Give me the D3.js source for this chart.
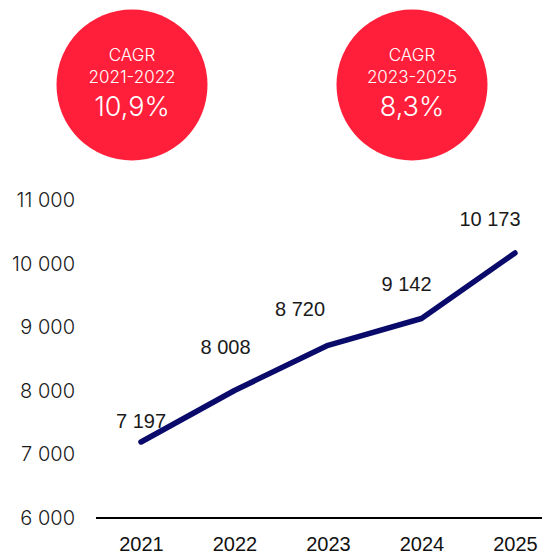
<!DOCTYPE html>
<html>
<head>
<meta charset="utf-8">
<script src="https://cdn.jsdelivr.net/npm/d3@7"></script>
<style>
  html, body { margin: 0; padding: 0; background: #fff; }
  svg { display: block; }
</style>
</head>
<body>
<svg id="chart" width="542" height="554"></svg>
<script>
// Revenue by year
const years = ["2021", "2022", "2023", "2024", "2025"];
const values = [7197, 8008, 8720, 9142, 10173];
const yTicks = [6000, 7000, 8000, 9000, 10000, 11000];

// Growth badges
const cagrPeriods = ["2021-2022", "2023-2025"];
const cagrRates = ["10,9%", "8,3%"];

// Hand-placed label nudges (dx, dy from the point) so labels sit clear of the line
const labelDx = [0, -9, -28, -15, -25];
const labelDy = [-14, -36, -29, -27, -27];

const svg = d3.select("#chart");
const fmt = d3.formatLocale({ decimal: ",", thousands: " ", grouping: [3], currency: ["", ""] }).format(",d");

const x = d3.scalePoint().domain(years).range([141, 515]);
const y = d3.scaleLinear().domain([6000, 11000]).range([518, 200.5]);

// Y tick labels (no axis line)
const yAxis = d3.axisLeft(y).tickValues(yTicks).tickSize(0).tickPadding(0).tickFormat(fmt);
const gy = svg.append("g").attr("transform", "translate(75,0)").call(yAxis);
gy.select(".domain").remove();
gy.selectAll("text")
  .attr("font-family", "Inter, 'Noto Sans', sans-serif")
  .attr("font-size", 20)
  .attr("font-weight", 300)
  .attr("fill", "#1a1a1a");

// Baseline
svg.append("line")
  .attr("x1", 96).attr("x2", 542)
  .attr("y1", y(6000)).attr("y2", y(6000))
  .attr("stroke", "#000").attr("stroke-width", 2);

// X labels
const xAxis = d3.axisBottom(x).tickSize(0).tickPadding(0);
const gx = svg.append("g").attr("transform", `translate(0,${y(6000)})`).call(xAxis);
gx.select(".domain").remove();
gx.selectAll("text")
  .attr("dy", null)
  .attr("y", 33)
  .attr("font-family", "'Liberation Sans', Arial, sans-serif")
  .attr("font-size", 20)
  .attr("fill", "#111");

// Line
const line = d3.line().x((d, i) => x(years[i])).y(d => y(d));
svg.append("path")
  .datum(values)
  .attr("d", line)
  .attr("fill", "none")
  .attr("stroke", "#0a0a6b")
  .attr("stroke-width", 5.5)
  .attr("stroke-linecap", "round")
  .attr("stroke-linejoin", "round");

// Value labels
svg.append("g").selectAll("text")
  .data(values)
  .join("text")
  .attr("x", (d, i) => x(years[i]) + labelDx[i])
  .attr("y", (d, i) => y(d) + labelDy[i])
  .attr("text-anchor", "middle")
  .attr("font-family", "'Liberation Sans', Arial, sans-serif")
  .attr("font-size", 20)
  .attr("fill", "#1a1a1a")
  .text(d => fmt(d));

// CAGR badges
const badgeX = d3.scalePoint().domain(cagrPeriods).range([132, 412]);
const badges = svg.append("g").selectAll("g")
  .data(cagrPeriods)
  .join("g")
  .attr("transform", d => `translate(${badgeX(d)},85)`);

badges.append("circle").attr("r", 75.5).attr("fill", "#ff1f3b");
badges.append("text")
  .attr("y", -24).attr("text-anchor", "middle")
  .attr("font-family", "Inter, 'Noto Sans', sans-serif")
  .attr("font-size", 17).attr("font-weight", 300).attr("fill", "#fff")
  .text("CAGR");
badges.append("text")
  .attr("y", -2).attr("text-anchor", "middle")
  .attr("font-family", "Inter, 'Noto Sans', sans-serif")
  .attr("font-size", 17).attr("font-weight", 300).attr("fill", "#fff")
  .text(d => d);
badges.append("text")
  .attr("y", 31).attr("text-anchor", "middle")
  .attr("font-family", "Inter, 'Noto Sans', sans-serif")
  .attr("font-size", 27).attr("font-weight", 300).attr("fill", "#fff")
  .text((d, i) => cagrRates[i]);
</script>
</body>
</html>
